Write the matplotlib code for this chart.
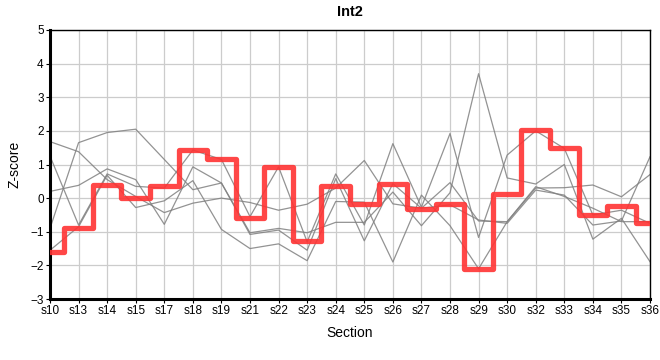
import matplotlib
matplotlib.use("Agg")
import matplotlib.pyplot as plt
import numpy as np

plt.rcParams['font.family'] = ['Liberation Sans', 'DejaVu Sans']

sections = ["s10", "s13", "s14", "s15", "s17", "s18", "s19", "s21", "s22", "s23", "s24",
            "s25", "s26", "s27", "s28", "s29", "s30", "s32", "s33", "s34", "s35", "s36"]

# highlighted sample (red step line)
int2 = [-1.6, -0.9, 0.38, 0.0, 0.35, 1.43, 1.15, -0.6, 0.93, -1.28, 0.36,
        -0.17, 0.43, -0.32, -0.17, -2.1, 0.12, 2.03, 1.5, -0.5, -0.23, -0.74]

# other samples (gray background lines)
g1 = [1.68, 1.38, 0.55, 0.05, -0.43, -0.15, 0.0, -0.13, -0.36, -0.18, 0.3,
      1.12, -0.17, -0.3, 0.46, -0.68, -0.7, 0.3, 0.31, 0.39, 0.04, 0.7]
g2 = [1.25, -0.8, 0.72, 0.35, 0.3, 1.43, 1.15, -0.55, 0.93, -1.3, 0.72,
      -0.8, 1.62, -0.27, 1.92, -1.17, 1.28, 2.0, 1.48, -0.5, -0.36, -0.75]
g3 = [0.2, 0.38, 0.87, 0.55, -0.78, 0.93, 0.45, -1.03, -0.9, -1.03, -0.72,
      -0.72, 0.18, -0.82, 0.16, 3.7, 0.6, 0.42, 1.0, -1.22, -0.6, -1.89]
g4 = [-0.9, 1.65, 1.95, 2.05, 1.15, 0.25, 0.45, -1.08, -0.95, -1.55, 0.58,
      -1.27, 0.43, -0.3, -0.2, -0.65, -0.75, 0.24, 0.09, -0.8, -0.68, 1.23]
g5 = [-1.55, -0.85, 0.68, -0.28, -0.08, 0.52, -0.93, -1.5, -1.36, -1.86, -0.1,
      -0.12, -1.9, 0.09, -0.82, -2.1, -0.7, 0.34, 0.05, -0.3, -0.7, -0.7]

fig = plt.figure(figsize=(6.6, 3.6), dpi=100)
ax = fig.add_axes([50 / 660, 1 - 299 / 360, 600 / 660, 269 / 360])

x = np.arange(len(sections))
for g in [g1, g2, g3, g4, g5]:
    ax.plot(x, g, color='#808080', lw=0.9, alpha=0.85, zorder=2)

ax.plot(x, int2, drawstyle='steps-mid', color='#ff3333', lw=3.8, alpha=0.9,
        solid_joinstyle='round', solid_capstyle='round', zorder=3)

ax.set_xlim(0, len(sections) - 1)
ax.set_ylim(-3, 5)
ax.set_xticks(x)
ax.set_xticklabels(sections)
ax.set_yticks(range(-3, 6))
ax.grid(True, color='#cccccc', lw=0.9, zorder=0)
ax.set_axisbelow(True)

for side in ['top', 'right']:
    ax.spines[side].set_linewidth(1.0)
for side in ['left', 'bottom']:
    ax.spines[side].set_linewidth(2.2)
ax.tick_params(axis='both', labelsize=8.5, length=3, width=0.8, pad=1.5, colors='black')

ax.set_xlabel("Section", fontsize=10, labelpad=6)
ax.set_ylabel("Z-score", fontsize=10, labelpad=6)
ax.set_title("Int2", fontsize=10.5, fontweight='bold', pad=10)

fig.savefig("out.png", dpi=100)
